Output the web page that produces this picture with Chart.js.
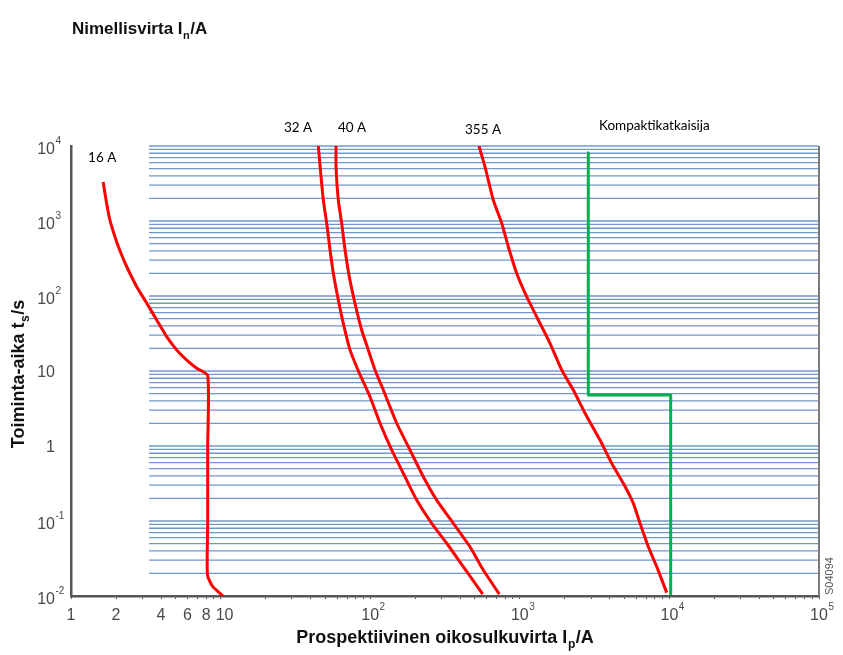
<!DOCTYPE html>
<html><head><meta charset="utf-8">
<script src="https://cdn.jsdelivr.net/npm/chart.js@4.4.1/dist/chart.umd.min.js"></script>
<style>html,body{margin:0;padding:0;background:#fff;}#wrap{width:843px;height:655px;position:relative;}</style>
</head><body><div id="wrap"><canvas id="c" width="843" height="655"></canvas></div>
<script>
// ---------- data ----------
const curve16A_x = [1.64, 1.73, 1.82, 1.94, 2.09, 2.33, 2.75, 3.21, 3.74, 4.36, 5.09, 5.94, 6.92, 8.2, 8.2, 8.2, 8.17, 8.9, 10.4];
const curve16A_y = [3311, 1722, 1031, 671, 436, 259, 133, 80, 47.9, 28.7, 19.1, 14, 10.9, 8.7, 1, 0.1, 0.019, 0.0132, 0.01];

const curve32A_x = [45, 46.7, 48.6, 51.2, 53.9, 56.7, 61.2, 66.1, 73.3, 82.9, 99.7, 116.3, 139.2, 166.4, 204.6, 257.7, 324.6, 419, 565];
const curve32A_y = [10000, 4325, 1905, 931, 410, 201, 88.5, 43.2, 19.1, 10.3, 4.54, 2.01, 0.885, 0.433, 0.19, 0.0931, 0.0505, 0.0246, 0.0106];

const curve40A_x = [59.1, 59.1, 61.2, 64.5, 67.9, 72.5, 79.1, 87.7, 97.1, 107.7, 122.4, 150.4, 184.5, 226.4, 278.3, 359.4, 464.5, 570, 729.5];
const curve40A_y = [10000, 5297, 1905, 931, 410, 180.7, 80, 35.2, 19.1, 10.3, 5.58, 2.01, 0.885, 0.39, 0.19, 0.0931, 0.0454, 0.0222, 0.0106];

const curve355A_x = [533.6, 585, 665, 757, 838, 953, 1112, 1330, 1592, 1906, 2279, 2729, 3436, 4113, 4919, 5741, 6362, 7228, 8226, 9594];
const curve355A_y = [10000, 5297, 1905, 931, 454, 201, 98, 47.9, 23.4, 10.3, 5.58, 2.73, 1.2, 0.588, 0.318, 0.172, 0.0931, 0.0454, 0.0246, 0.0111];

const breaker_x = [2870, 2870, 10200, 10200];
const breaker_y = [8130, 4.79, 4.79, 0.0106];

const xTickValues = [1, 2, 4, 6, 8, 10, 100, 1000, 10000, 100000];
const xTickLabels = ['1', '2', '4', '6', '8', '10', '10^2', '10^3', '10^4', '10^5'];
const yTickValues = [10000, 1000, 100, 10, 1, 0.1, 0.01];
const yTickLabels = ['10^4', '10^3', '10^2', '10', '1', '10^-1', '10^-2'];

const annotationTexts = ['16 A', '32 A', '40 A', '355 A', 'Kompaktikatkaisija'];
const annotationX = [1.30, 26.5, 60.9, 430, 3383];
const annotationY = [6918, 17378, 17378, 16350, 18480];

const chartTitle = ['Nimellisvirta I', 'n', '/A'];
const xTitle = ['Prospektiivinen oikosulkuvirta I', 'p', '/A'];
const yTitle = ['Toiminta-aika t', 's', '/s'];
const figCode = 'S04094';

// gridline extent (x range of the printed horizontal lines) and log positions
const gridXStart = 3.32, gridXEnd = 100000;
const mantissas = [1, 2, 3, 4, 5, 6, 7, 8, 9];
const yGridValues = [];
for (let k = -2; k <= 3; k++) mantissas.forEach(m => { const v = +(m * Math.pow(10, k)).toPrecision(3); if (v > 0.01) yGridValues.push(v); });
yGridValues.push(10000);
const xMinorTicks = [];
for (let k = 0; k <= 4; k++) mantissas.forEach(m => xMinorTicks.push(+(m * Math.pow(10, k)).toPrecision(3)));
xMinorTicks.push(100000);

const zip = (xs, ys) => xs.map((x, i) => ({ x, y: ys[i] }));

// ---------- styling ----------
const FONT = '"Liberation Sans", Arial, Helvetica, sans-serif';
const RED = '#ff0000', GREEN = '#00b050';
const GRID = '#7097cc', AXIS = '#555555', TICKTXT = '#4a4a4a';

function parseSup(lbl) { const i = lbl.indexOf('^'); return i < 0 ? [lbl, ''] : [lbl.slice(0, i), lbl.slice(i + 1)]; }

function drawSub(ctx, parts, x, y, mainFont, subFont, align) {
  ctx.font = mainFont; const w0 = ctx.measureText(parts[0]).width;
  ctx.font = subFont; const w1 = ctx.measureText(parts[1]).width;
  ctx.font = mainFont; const w2 = ctx.measureText(parts[2]).width;
  const total = w0 + w1 + 1 + w2;
  let sx = align === 'center' ? x - total / 2 : x;
  ctx.textAlign = 'left'; ctx.textBaseline = 'alphabetic';
  ctx.font = mainFont; ctx.fillText(parts[0], sx, y);
  ctx.font = subFont; ctx.fillText(parts[1], sx + w0 + 0.5, y + 5);
  ctx.font = mainFont; ctx.fillText(parts[2], sx + w0 + w1 + 1, y);
}

const customDraw = {
  id: 'customDraw',
  beforeDatasetsDraw(chart) {
    const { ctx, chartArea, scales: { x, y } } = chart;
    ctx.save();
    ctx.strokeStyle = GRID; ctx.lineWidth = 1.3;
    const x0 = x.getPixelForValue(gridXStart), x1 = x.getPixelForValue(gridXEnd);
    yGridValues.forEach(v => {
      const py = y.getPixelForValue(v);
      ctx.beginPath(); ctx.moveTo(x0, py); ctx.lineTo(x1, py); ctx.stroke();
    });
    // right frame line
    ctx.strokeStyle = '#7a7a7a'; ctx.lineWidth = 2;
    ctx.beginPath(); ctx.moveTo(chartArea.right, chartArea.top); ctx.lineTo(chartArea.right, chartArea.bottom); ctx.stroke();
    ctx.restore();
  },
  afterDraw(chart) {
    const { ctx, chartArea, scales: { x, y } } = chart;
    ctx.save();
    ctx.fillStyle = TICKTXT;
    ctx.textBaseline = 'alphabetic';
    const baseFont = '16px ' + FONT, supFont = '10px ' + FONT;
    // x tick labels
    xTickValues.forEach((v, i) => {
      const [b, s] = parseSup(xTickLabels[i]);
      const px = x.getPixelForValue(v) + (v === 10 ? 4 : 0);
      ctx.font = baseFont; const bw = ctx.measureText(b).width;
      ctx.textAlign = 'left';
      ctx.fillText(b, px - bw / 2, chartArea.bottom + 23.5);
      if (s) { ctx.font = supFont; ctx.fillText(s, px + bw / 2 + 0.5, chartArea.bottom + 14); }
    });
    // y tick labels
    const yLabelRight = chartArea.left - 16;
    yTickValues.forEach((v, i) => {
      const [b, s] = parseSup(yTickLabels[i]);
      const py = y.getPixelForValue(v) + 6 + (s ? 1.5 : 0);
      ctx.font = baseFont; const bw = ctx.measureText(b).width;
      ctx.textAlign = 'left';
      ctx.fillText(b, yLabelRight - bw, py);
      if (s) { ctx.font = supFont; ctx.fillText(s, yLabelRight + 0.5, py - 9.5); }
    });
    // titles
    ctx.fillStyle = '#111';
    drawSub(ctx, chartTitle, chartArea.left + 1, 33.5, 'bold 17px ' + FONT, 'bold 11px ' + FONT, 'left');
    drawSub(ctx, xTitle, (chartArea.left + chartArea.right) / 2, 643, 'bold 18px ' + FONT, 'bold 12px ' + FONT, 'center');
    ctx.save();
    ctx.translate(24, (chartArea.top + chartArea.bottom) / 2 + 3);
    ctx.rotate(-Math.PI / 2);
    drawSub(ctx, yTitle, 0, 0, 'bold 18px ' + FONT, 'bold 12px ' + FONT, 'center');
    ctx.restore();
    // annotations
    ctx.fillStyle = '#000';
    ctx.font = '13.5px Lato, "Noto Sans", sans-serif';
    ctx.textAlign = 'left'; ctx.textBaseline = 'middle';
    annotationTexts.forEach((t, i) => {
      ctx.fillText(t, x.getPixelForValue(annotationX[i]), y.getPixelForValue(annotationY[i]));
    });
    // figure code
    ctx.save();
    ctx.fillStyle = '#555';
    ctx.font = '11px ' + FONT;
    ctx.translate(chartArea.right + 11, chartArea.bottom - 20);
    ctx.rotate(-Math.PI / 2);
    ctx.textAlign = 'center'; ctx.textBaseline = 'middle';
    ctx.fillText(figCode, 0, 0);
    ctx.restore();
    ctx.restore();
  }
};

const lineDs = (label, xs, ys, color, tension) => ({
  label, data: zip(xs, ys), borderColor: color, backgroundColor: color,
  borderWidth: 3, pointRadius: 0, tension, fill: false, borderCapStyle: 'butt', borderJoinStyle: 'round'
});

new Chart(document.getElementById('c'), {
  type: 'line',
  data: {
    datasets: [
      lineDs('16 A', curve16A_x, curve16A_y, RED, 0.2),
      lineDs('32 A', curve32A_x, curve32A_y, RED, 0.2),
      lineDs('40 A', curve40A_x, curve40A_y, RED, 0.2),
      lineDs('355 A', curve355A_x, curve355A_y, RED, 0.2),
      lineDs('Kompaktikatkaisija', breaker_x, breaker_y, GREEN, 0)
    ]
  },
  options: {
    responsive: false, animation: false, parsing: true,
    layout: { padding: { top: 146, right: 24, left: 0, bottom: 0 } },
    plugins: { legend: { display: false }, tooltip: { enabled: false }, title: { display: false } },
    scales: {
      x: {
        type: 'logarithmic', min: 1, max: 100000, position: 'bottom',
        afterBuildTicks: s => { s.ticks = xMinorTicks.map(v => ({ value: v })); },
        afterFit: s => { s.height = 59; },
        ticks: { display: false },
        grid: { display: true, drawOnChartArea: false, drawTicks: true, tickLength: 3, color: '#444', lineWidth: 1 },
        border: { display: true, color: AXIS, width: 2.5 }
      },
      y: {
        type: 'logarithmic', min: 0.01, max: 10000, position: 'left',
        afterBuildTicks: s => { s.ticks = yTickValues.map(v => ({ value: v })); },
        afterFit: s => { s.width = 71; },
        ticks: { display: false },
        grid: { display: false, drawTicks: false },
        border: { display: true, color: AXIS, width: 2.5 }
      }
    }
  },
  plugins: [customDraw]
});
</script></body></html>
